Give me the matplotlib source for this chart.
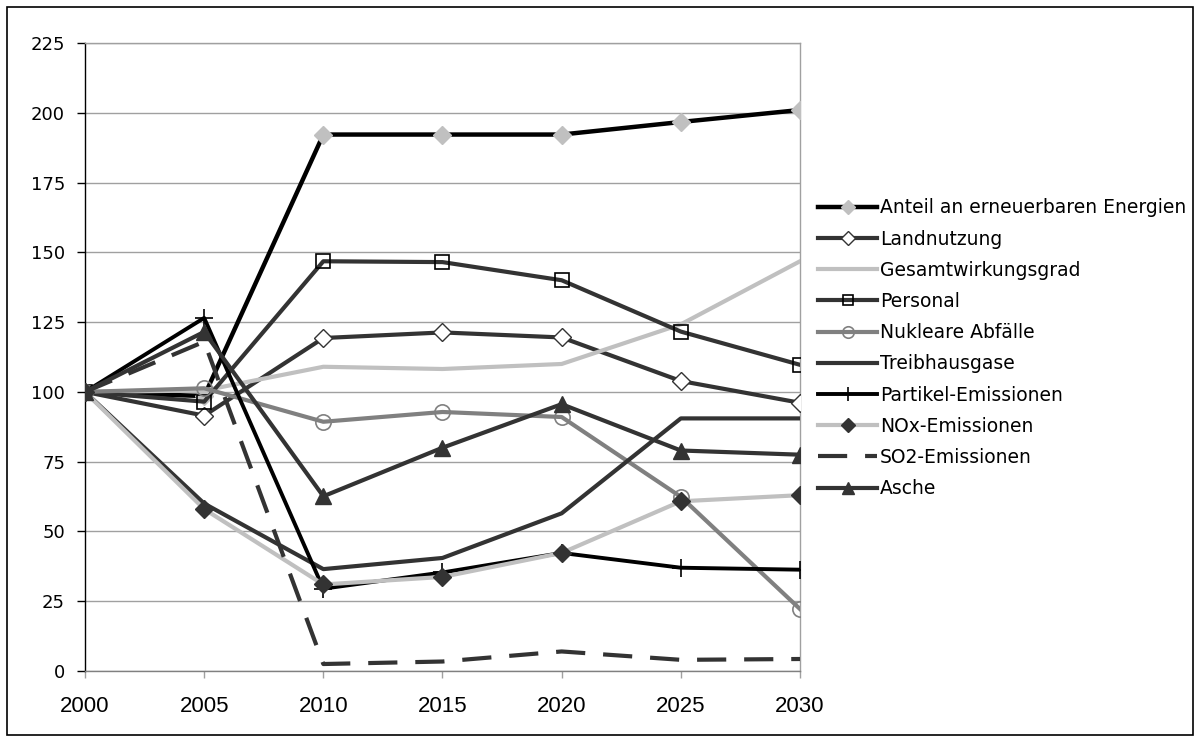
import matplotlib
matplotlib.use("Agg")
import matplotlib.pyplot as plt
import matplotlib.patches as patches

plt.rcParams['font.family'] = ['DejaVu Sans']

years = [2000, 2005, 2010, 2015, 2020, 2025, 2030]

anteil = [100, 98.5, 192.2, 192.2, 192.2, 196.7, 201]
landnutzung = [100, 91.5, 119.3, 121.3, 119.5, 103.9, 96.1]
gesamtwirkungsgrad = [100, 100.5, 109, 108.2, 110, 124.2, 146.8]
personal = [100, 96.5, 146.8, 146.5, 140, 121.6, 109.7]
nukleare = [100, 101.3, 89.3, 92.8, 91, 62.4, 22.2]
treibhausgase = [100, 60, 36.5, 40.5, 56.5, 90.5, 90.5]
partikel = [100, 126.5, 29.5, 35.3, 42.3, 37, 36.3]
nox = [100, 58, 31, 33.7, 42.3, 60.8, 63]
so2 = [100, 118, 2.5, 3.4, 7, 4, 4.3]
asche = [100, 121.5, 62.6, 80, 95.6, 79, 77.5]

DARK = '#333333'
LIGHT = '#c0c0c0'
MID = '#808080'

fig = plt.figure(figsize=(12, 7.42), dpi=100)
ax = fig.add_axes([85/1200, 1 - 671/742, (800-85)/1200, (671-43)/742])

ax.plot(years, anteil, color='black', lw=3.2, marker='D', ms=9, mfc=LIGHT, mec=LIGHT,
        label='Anteil an erneuerbaren Energien', zorder=3)
ax.plot(years, landnutzung, color=DARK, lw=3, marker='D', ms=9, mfc='white', mec=DARK, mew=1,
        label='Landnutzung', zorder=3)
ax.plot(years, gesamtwirkungsgrad, color=LIGHT, lw=3, label='Gesamtwirkungsgrad', zorder=3)
ax.plot(years, personal, color=DARK, lw=3, marker='s', ms=10, mfc='none', mec='black', mew=1.2,
        label='Personal', zorder=3)
ax.plot(years, nukleare, color=MID, lw=3, marker='o', ms=11, mfc='none', mec=MID, mew=1.2,
        label='Nukleare Abfälle', zorder=3)
ax.plot(years, treibhausgase, color=DARK, lw=3, label='Treibhausgase', zorder=3)
ax.plot(years, partikel, color='black', lw=2.8, marker='+', ms=13, mec='black', mew=1.2,
        label='Partikel-Emissionen', zorder=3)
ax.plot(years, nox, color=LIGHT, lw=3, marker='D', ms=9, mfc=DARK, mec=DARK,
        label='NOx-Emissionen', zorder=3)
ax.plot(years, so2, color=DARK, lw=3, dashes=(7, 4.3), label='SO2-Emissionen', zorder=3)
ax.plot(years, asche, color=DARK, lw=3, marker='^', ms=11, mfc=DARK, mec=DARK,
        label='Asche', zorder=3)

ax.set_xlim(2000, 2030)
ax.set_ylim(0, 225)
ax.set_xticks(years)
ax.set_yticks(range(0, 226, 25))
ax.tick_params(axis='x', direction='out', length=5, width=1, color='#a0a0a0', pad=13)
ax.tick_params(axis='y', direction='out', length=5.8, width=1, color='black', pad=8.6)
for lab in ax.get_xticklabels():
    lab.set_fontfamily(['Liberation Sans', 'DejaVu Sans'])
    lab.set_fontsize(16)
for lab in ax.get_yticklabels():
    lab.set_fontsize(13)
ax.grid(axis='y', color='#a0a0a0', lw=1, zorder=0)
ax.set_axisbelow(True)
ax.spines['left'].set_color('black')
ax.spines['bottom'].set_color('#808080')
ax.spines['top'].set_color('#a0a0a0')
ax.spines['right'].set_color('#a0a0a0')
for s in ax.spines.values():
    s.set_linewidth(1)

leg = ax.legend(loc='upper left', bbox_to_anchor=(818/1200, 1 - 198.5/742),
                bbox_transform=fig.transFigure, frameon=False, fontsize=13.5,
                handlelength=3.15, handletextpad=0.15, labelspacing=0.65, borderaxespad=0,
                borderpad=0, markerscale=0.75)

# Rahmen um die ganze Grafik
fig.add_artist(patches.Rectangle((7/1200, 7/742), 1186/1200, 728/742, transform=fig.transFigure,
                                 fill=False, edgecolor='black', lw=1.2))

fig.savefig('out.png', dpi=100)
